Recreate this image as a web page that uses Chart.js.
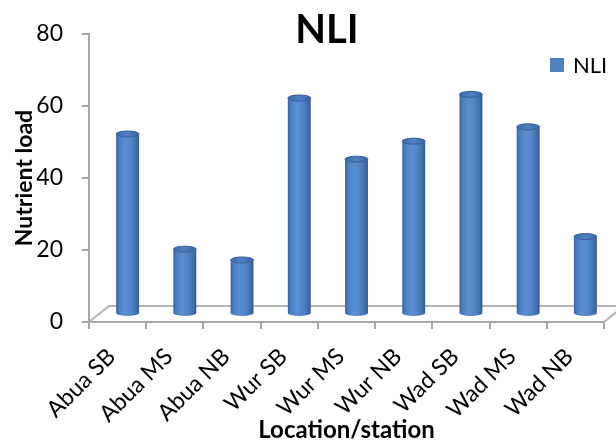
<!DOCTYPE html>
<html>
<head>
<meta charset="utf-8">
<title>NLI</title>
<script src="https://cdn.jsdelivr.net/npm/chart.js@4.4.1/dist/chart.umd.min.js"></script>
<style>
  html, body { margin: 0; padding: 0; background: #ffffff; }
  canvas { display: block; }
</style>
</head>
<body>
<canvas id="nliChart" width="616" height="441"></canvas>
<script>
// Stations along the river and their nutrient load index
const stations = ['Abua SB', 'Abua MS', 'Abua NB', 'Wur SB', 'Wur MS', 'Wur NB', 'Wad SB', 'Wad MS', 'Wad NB'];
const nliValues = [50, 18, 15, 60, 43, 48, 61, 52, 21.5];
const yTickValues = [0, 20, 40, 60, 80];

const chartTitle = 'NLI';
const seriesLabel = 'NLI';
const xAxisTitle = 'Location/station';
const yAxisTitle = 'Nutrient load';

const BAR_COLOR = '#4f81bd';
const AXIS_GREY = '#a6a6a6';
const FONT = 'Lato, "Open Sans", "DejaVu Sans", sans-serif';

// Depth of the 3D floor, and the offset of the cylinders (half way back)
const FLOOR_DX = 20, FLOOR_DY = -16;
const BAR_DX = 10, BAR_DY = -8;
const CAP_RY = 3;

// Floor outline drawn behind the columns
const floorPlugin = {
  id: 'floor3d',
  beforeDatasetsDraw(chart) {
    const { ctx } = chart;
    const xs = chart.scales.x, ys = chart.scales.y;
    const y0 = ys.getPixelForValue(0);
    const l = xs.left, r = xs.right;
    ctx.save();
    ctx.strokeStyle = '#b5b5b5';
    ctx.lineWidth = 2;
    ctx.beginPath();
    ctx.moveTo(l, y0);
    ctx.lineTo(l + FLOOR_DX, y0 + FLOOR_DY);
    ctx.lineTo(r + FLOOR_DX, y0 + FLOOR_DY);
    ctx.lineTo(r, y0);
    ctx.stroke();
    ctx.restore();
  }
};

// Columns rendered as shaded cylinders from the bar elements' geometry
const cylinderPlugin = {
  id: 'cylinders',
  beforeDatasetDraw(chart, args) {
    const { ctx } = chart;
    const meta = args.meta;
    ctx.save();
    meta.data.forEach((bar) => {
      const cx = bar.x + BAR_DX;
      const top = bar.y + BAR_DY;
      const bottom = bar.base + BAR_DY;
      const rx = bar.width / 2;

      const grad = ctx.createLinearGradient(cx - rx, 0, cx + rx, 0);
      grad.addColorStop(0, '#35619e');
      grad.addColorStop(0.12, '#4a7dbf');
      grad.addColorStop(0.38, '#5a8fd1');
      grad.addColorStop(0.62, '#5487c9');
      grad.addColorStop(0.88, '#416fae');
      grad.addColorStop(1, '#30598f');

      ctx.beginPath();
      ctx.moveTo(cx - rx, top);
      ctx.lineTo(cx - rx, bottom);
      ctx.ellipse(cx, bottom, rx, CAP_RY, 0, Math.PI, 0, true);
      ctx.lineTo(cx + rx, top);
      ctx.ellipse(cx, top, rx, CAP_RY, 0, 0, Math.PI, false);
      ctx.closePath();
      ctx.fillStyle = grad;
      ctx.fill();

      const capGrad = ctx.createLinearGradient(cx - rx, 0, cx + rx, 0);
      capGrad.addColorStop(0, '#3d6aa8');
      capGrad.addColorStop(0.5, '#4e81c2');
      capGrad.addColorStop(1, '#3b66a2');
      ctx.beginPath();
      ctx.ellipse(cx, top, rx, CAP_RY, 0, 0, Math.PI * 2);
      ctx.fillStyle = capGrad;
      ctx.fill();
      ctx.strokeStyle = '#2f5a94';
      ctx.lineWidth = 1;
      ctx.stroke();
    });
    ctx.restore();
    return false;
  }
};

// Title and legend placed over the plot
const headingPlugin = {
  id: 'heading',
  afterDraw(chart) {
    const { ctx } = chart;
    ctx.save();
    ctx.fillStyle = '#000000';
    ctx.textAlign = 'center';
    ctx.textBaseline = 'alphabetic';
    ctx.font = 'bold 40px ' + FONT;
    ctx.fillText(chartTitle, 327, 43);

    const area = chart.chartArea;
    const sx = area.right - 54, sy = area.top + 24;
    ctx.fillStyle = chart.data.datasets[0].legendColor;
    ctx.fillRect(sx, sy, 14, 14);
    ctx.fillStyle = '#000000';
    ctx.textAlign = 'left';
    ctx.font = '22px ' + FONT;
    ctx.fillText(chart.data.datasets[0].label, sx + 23, sy + 15);
    ctx.restore();
  }
};

new Chart(document.getElementById('nliChart'), {
  type: 'bar',
  data: {
    labels: stations,
    datasets: [{
      label: seriesLabel,
      data: nliValues,
      backgroundColor: BAR_COLOR,
      legendColor: BAR_COLOR,
      categoryPercentage: 0.5,
      barPercentage: 0.8
    }]
  },
  options: {
    responsive: false,
    devicePixelRatio: 1,
    animation: false,
    layout: { padding: { top: 34, right: 12, bottom: 0, left: 0 } },
    plugins: {
      legend: { display: false },
      title: { display: false },
      tooltip: { enabled: false }
    },
    scales: {
      x: {
        type: 'category',
        offset: true,
        grid: {
          offset: true,
          drawOnChartArea: false,
          drawTicks: true,
          tickLength: 7,
          color: AXIS_GREY,
          lineWidth: 2
        },
        border: { display: true, color: AXIS_GREY, width: 2 },
        ticks: {
          minRotation: 45,
          maxRotation: 45,
          autoSkip: false,
          padding: 14,
          labelOffset: -6,
          color: '#000000',
          font: { family: FONT, size: 23 }
        },
        title: {
          display: true,
          text: xAxisTitle,
          color: '#000000',
          font: { family: FONT, size: 24, weight: 'bold' },
          padding: { top: 0, bottom: -4 }
        },
        afterFit(scale) { scale.height = 119; }
      },
      y: {
        min: 0,
        max: 80,
        afterBuildTicks(scale) { scale.ticks = yTickValues.map(v => ({ value: v })); },
        grid: {
          drawOnChartArea: false,
          drawTicks: true,
          tickLength: 7,
          color: AXIS_GREY,
          lineWidth: 2
        },
        border: { display: true, color: AXIS_GREY, width: 2 },
        ticks: {
          padding: 19,
          color: '#000000',
          font: { family: FONT, size: 23 }
        },
        title: {
          display: true,
          text: yAxisTitle,
          color: '#000000',
          font: { family: FONT, size: 23, weight: 'bold' },
          padding: { top: 11, bottom: 0 }
        },
        afterFit(scale) { scale.width = 89; }
      }
    }
  },
  plugins: [floorPlugin, cylinderPlugin, headingPlugin]
});
</script>
</body>
</html>
